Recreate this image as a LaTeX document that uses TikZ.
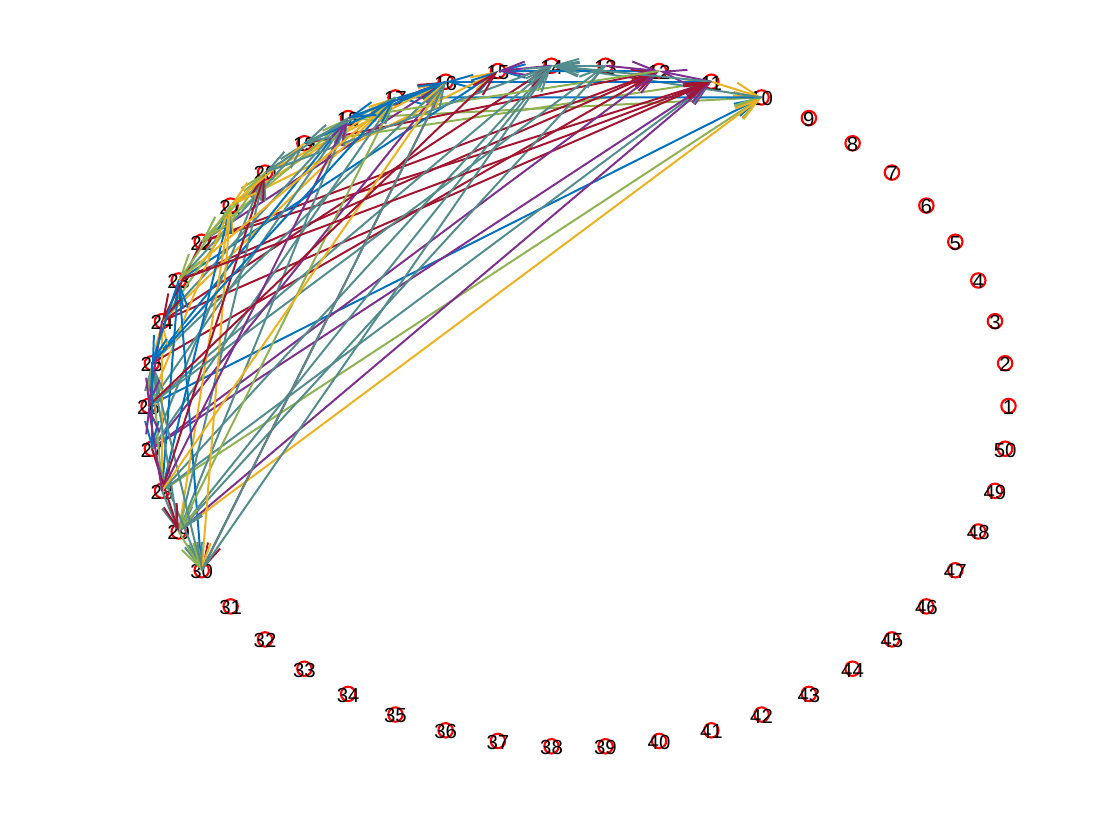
\documentclass[tikz,border=0pt]{standalone}
\usepackage{fontspec}
\setmainfont{Liberation Sans}
\usetikzlibrary{arrows.meta}

\definecolor{mblu}{RGB}{0,114,189}
\definecolor{mgia}{RGB}{237,177,32}
\definecolor{mvio}{RGB}{126,47,142}
\definecolor{mver}{RGB}{142,178,82}
\definecolor{mpet}{RGB}{82,140,140}
\definecolor{mros}{RGB}{162,20,47}

\tikzset{
    punto/.style={circle, draw=red, line width=1.5pt, minimum size=0.36cm, inner sep=0pt},
    etich/.style={inner sep=0pt, font=\fontsize{14.5}{16}\selectfont},
    arco/.style={line width=1.4pt, -{Straight Barb[length=0.6cm, width=0.34cm]}}
}

\begin{document}
\begin{tikzpicture}[x=0.025cm, y=0.025cm]

    \useasboundingbox (0,0) rectangle (1120,840);

    % -- Nodi sull'ellisse --
    \foreach \k in {1,...,50} {
        \pgfmathsetmacro{\ang}{(\k-1)*7.2}
        \node[punto] (n\k) at ({578.5+430*cos(\ang)}, {434+341*sin(\ang)}) {};
    }
    \foreach \k in {1,...,50} {
        \node[etich] (l\k) at ([yshift=-1pt]n\k) {\k};
    }

    % -- Archi orientati (sorgente/destinazione/colore) --
    \foreach \a/\b/\c in {
        26/10/mblu, 28/10/mver, 29/10/mgia, 11/10/mgia, 18/10/mver,
        19/11/mver, 10/17/mblu, 10/14/mpet, 11/16/mblu, 12/15/mblu,
        29/11/mvio, 28/11/mpet, 22/11/mros, 24/11/mros, 27/11/mvio,
        22/12/mros, 23/12/mros, 25/12/mros, 27/12/mvio, 19/12/mros,
        11/12/mvio, 13/12/mvio, 13/14/mpet, 28/14/mpet, 26/14/mpet,
        24/14/mros, 14/15/mvio, 21/15/mgia, 23/15/mblu, 22/16/mvio,
        27/16/mvio, 25/16/mpet, 20/16/mgia, 19/16/mpet, 11/14/mpet,
        21/17/mgia, 24/17/mgia, 18/16/mros, 27/17/mpet, 12/18/mver,
        24/18/mpet, 26/18/mpet, 29/18/mpet, 25/18/mblu, 22/18/mver,
        19/16/mblu, 23/19/mpet, 27/20/mpet, 24/20/mver, 22/20/mver,
        29/21/mgia, 28/21/mblu, 26/21/mgia, 30/23/mblu, 28/23/mblu,
        27/25/mpet, 28/25/mver, 28/24/mgia, 29/25/mpet, 29/20/mpet,
        28/29/mpet, 13/29/mpet, 14/29/mpet, 17/29/mver, 16/30/mros,
        21/30/mgia, 25/30/mpet, 27/30/mpet, 29/30/mver, 27/29/mros,
        28/20/mros, 23/11/mros, 26/13/mpet, 20/14/mpet, 28/18/mvio,
        28/16/mgia, 23/17/mgia, 25/17/mblu, 26/15/mros, 30/16/mpet,
        30/14/mpet, 24/26/mvio, 22/24/mros, 23/25/mblu, 25/27/mblu,
        28/26/mvio, 21/23/mver, 20/22/mver, 19/21/mgia, 18/20/mpet,
        17/19/mpet, 16/18/mblu} {
        \draw[arco, \c] (n\a.center) -- (n\b.center);
    }

\end{tikzpicture}
\end{document}
